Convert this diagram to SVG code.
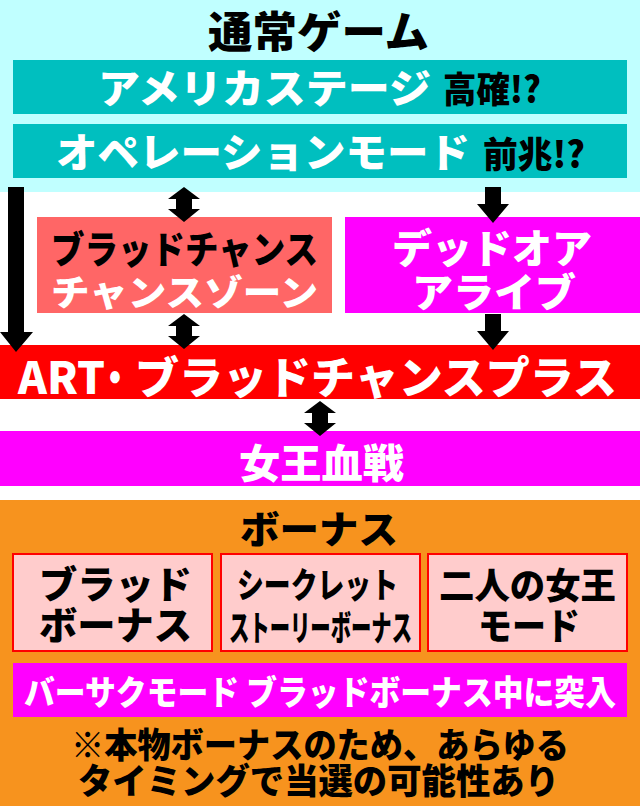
<svg xmlns="http://www.w3.org/2000/svg" width="640" height="806" viewBox="0 0 640 806">
<style>
text{font-family:"Noto Sans CJK JP","Noto Sans CJK SC",sans-serif;font-weight:900;dominant-baseline:central}
.w{fill:#FFFFFF}
.k{fill:#000000}
.pb{fill:#FFCCCC;stroke:#FF0000;stroke-width:2}
.ar{fill:#000000}
</style>
<defs>
<path id="dbl" d="M0,0 L16,12 L8,12 L8,22 L16,22 L0,35 L-16,22 L-8,22 L-8,12 L-16,12 Z"/>
<path id="down" d="M-8,0 L8,0 L8,17 L16,17 L0,36 L-16,17 L-8,17 Z"/>
</defs>
<rect x="0" y="0" width="640" height="806" fill="#FFFFFF"/>
<g id="normal">
<rect x="0" y="0" width="640" height="192" fill="#C0FFFF"/>
<text class="k" x="208" y="29" font-size="43" textLength="221" lengthAdjust="spacingAndGlyphs">通常ゲーム</text>
</g>
<g id="america">
<rect x="13" y="60" width="614" height="54" fill="#00BFBF"/>
<text class="w" x="98" y="86" font-size="40" textLength="333" lengthAdjust="spacingAndGlyphs">アメリカステージ</text>
<text class="k" x="443" y="87" font-size="36" textLength="98" lengthAdjust="spacingAndGlyphs">高確!?</text>
</g>
<g id="operation">
<rect x="13" y="124" width="614" height="54" fill="#00BFBF"/>
<text class="w" x="56" y="150" font-size="40" textLength="414" lengthAdjust="spacingAndGlyphs">オペレーションモード</text>
<text class="k" x="483" y="152" font-size="36" textLength="102" lengthAdjust="spacingAndGlyphs">前兆!?</text>
</g>
<g id="bloodchance">
<rect x="37" y="217" width="295" height="96" fill="#FF6666"/>
<text class="k" x="51" y="246" font-size="38" textLength="267" lengthAdjust="spacingAndGlyphs">ブラッドチャンス</text>
<text class="w" x="51" y="290" font-size="36" textLength="267" lengthAdjust="spacingAndGlyphs">チャンスゾーン</text>
</g>
<g id="deadoralive">
<rect x="345" y="217" width="295" height="96" fill="#FF00FF"/>
<text class="w" x="392" y="246" font-size="40" textLength="200" lengthAdjust="spacingAndGlyphs">デッドオア</text>
<text class="w" x="412" y="290" font-size="40" textLength="164" lengthAdjust="spacingAndGlyphs">アライブ</text>
</g>
<g id="art">
<rect x="0" y="345" width="640" height="54" fill="#FF0000"/>
<text class="w" y="375" font-size="44"><tspan x="18" textLength="87" lengthAdjust="spacingAndGlyphs">ART</tspan><tspan x="98" textLength="34" lengthAdjust="spacingAndGlyphs">・</tspan><tspan x="135" textLength="482" lengthAdjust="spacingAndGlyphs">ブラッドチャンスプラス</tspan></text>
</g>
<g id="queenbattle">
<rect x="0" y="431" width="640" height="55" fill="#FF00FF"/>
<text class="w" x="239" y="461" font-size="40" textLength="165" lengthAdjust="spacingAndGlyphs">女王血戦</text>
</g>
<g id="bonus">
<rect x="0" y="500" width="640" height="306" fill="#F7931E"/>
<text class="k" x="240" y="526" font-size="38" textLength="158" lengthAdjust="spacingAndGlyphs">ボーナス</text>
</g>
<g id="bloodbonus">
<rect class="pb" x="13" y="554" width="199" height="97"/>
<text class="k" x="39" y="581" font-size="38" textLength="153" lengthAdjust="spacingAndGlyphs">ブラッド</text>
<text class="k" x="39" y="622" font-size="38" textLength="153" lengthAdjust="spacingAndGlyphs">ボーナス</text>
</g>
<g id="secretstory">
<rect class="pb" x="221" y="554" width="199" height="97"/>
<text class="k" x="237" y="582" font-size="35" textLength="161" lengthAdjust="spacingAndGlyphs">シークレット</text>
<text class="k" x="229" y="625" font-size="35" textLength="183" lengthAdjust="spacingAndGlyphs">ストーリーボーナス</text>
</g>
<g id="twoqueens">
<rect class="pb" x="428" y="554" width="199" height="97"/>
<text class="k" x="439" y="583" font-size="36" textLength="177" lengthAdjust="spacingAndGlyphs">二人の女王</text>
<text class="k" x="478" y="624" font-size="37" textLength="102" lengthAdjust="spacingAndGlyphs">モード</text>
</g>
<g id="berserk">
<rect x="13" y="663" width="614" height="54" fill="#FF00FF"/>
<text class="w" x="24" y="690" font-size="34" textLength="592" lengthAdjust="spacingAndGlyphs">バーサクモード ブラッドボーナス中に突入</text>
</g>
<g id="note">
<text class="k" x="71" y="742" font-size="35" textLength="498" lengthAdjust="spacingAndGlyphs">※本物ボーナスのため、あらゆる</text>
<text class="k" x="78" y="778" font-size="35" textLength="481" lengthAdjust="spacingAndGlyphs">タイミングで当選の可能性あり</text>
</g>
<g id="connectors">
<path class="ar" d="M8,187 L24,187 L24,332 L33,332 L16,352 L0,332 L8,332 Z"/>
<use href="#dbl" x="184" y="187"/>
<use href="#dbl" x="184" y="314"/>
<use href="#dbl" x="320" y="401"/>
<use href="#down" x="493" y="187"/>
<use href="#down" x="493" y="314"/>
</g>
</svg>
